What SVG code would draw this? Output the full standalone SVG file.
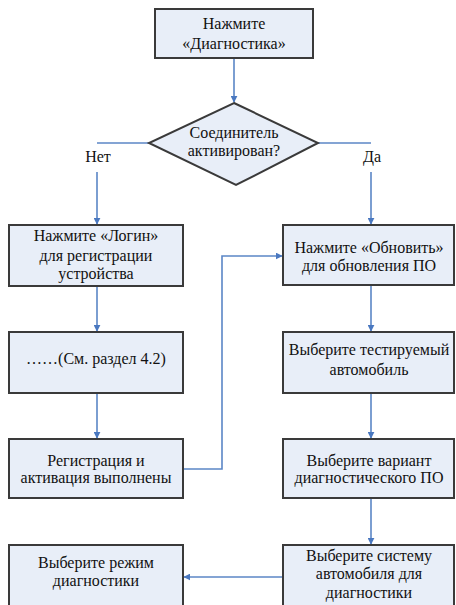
<svg xmlns="http://www.w3.org/2000/svg" width="456" height="605" viewBox="0 0 456 605">
<defs>
<style>
.box{fill:#e8eef8;stroke:#3a3a3a;stroke-width:2}
.c{fill:none;stroke:#5b86c6;stroke-width:1.6}
svg text, g text, text.t{font-family:'Liberation Serif',serif !important;font-size:16px;fill:#111;text-anchor:middle}
</style>
<marker id="ah" viewBox="0 0 10 10" refX="9" refY="5" markerWidth="7" markerHeight="7" orient="auto" markerUnits="userSpaceOnUse">
<path d="M0,0 L10,5 L0,10 z" fill="#4a78c0"/>
</marker>
</defs>
<rect width="456" height="605" fill="#fff"/>
<g id="connectors">
<path class="c" d="M234,58 V102" marker-end="url(#ah)"/>
<path class="c" d="M149,143 H97"/>
<path class="c" d="M97,172 V224" marker-end="url(#ah)"/>
<path class="c" d="M318,143 H371"/>
<path class="c" d="M371,172 V224" marker-end="url(#ah)"/>
<path class="c" d="M97,286 V331" marker-end="url(#ah)"/>
<path class="c" d="M97,393 V438" marker-end="url(#ah)"/>
<path class="c" d="M183,469 H222 V256 H282" marker-end="url(#ah)"/>
<path class="c" d="M371,285 V331" marker-end="url(#ah)"/>
<path class="c" d="M371,393 V438" marker-end="url(#ah)"/>
<path class="c" d="M371,498 V544" marker-end="url(#ah)"/>
<path class="c" d="M283,577 H184" marker-end="url(#ah)"/>
</g>
<g id="n1"><rect class="box" x="155" y="9" width="158" height="49"/>
<text class="t" x="234" y="29" font-family="Liberation Serif" style="font-family:'Liberation Serif',serif !important">Нажмите</text><text class="t" x="234" y="49" font-family="Liberation Serif" style="font-family:'Liberation Serif',serif !important">«Диагностика»</text></g>
<g id="n2"><polygon class="box" points="234,103 318,143 236,185 149,143"/>
<text class="t" x="234" y="138" font-family="Liberation Serif" style="font-family:'Liberation Serif',serif !important">Соединитель</text><text class="t" x="234" y="156" font-family="Liberation Serif" style="font-family:'Liberation Serif',serif !important">активирован?</text></g>
<g id="lblNo"><text class="t" x="98" y="162" font-family="Liberation Serif" style="font-family:'Liberation Serif',serif !important">Нет</text></g>
<g id="lblYes"><text class="t" x="372" y="162" font-family="Liberation Serif" style="font-family:'Liberation Serif',serif !important">Да</text></g>
<g id="n3"><rect class="box" x="9" y="225" width="174" height="61"/>
<text class="t" x="96" y="241" font-family="Liberation Serif" style="font-family:'Liberation Serif',serif !important">Нажмите «Логин»</text><text class="t" x="96" y="261" font-family="Liberation Serif" style="font-family:'Liberation Serif',serif !important">для регистрации</text><text class="t" x="96" y="279" font-family="Liberation Serif" style="font-family:'Liberation Serif',serif !important">устройства</text></g>
<g id="n4"><rect class="box" x="9" y="332" width="174" height="61"/>
<text class="t" x="96" y="364" font-family="Liberation Serif" style="font-family:'Liberation Serif',serif !important">……(См. раздел 4.2)</text></g>
<g id="n5"><rect class="box" x="9" y="439" width="174" height="59"/>
<text class="t" x="96" y="466" font-family="Liberation Serif" style="font-family:'Liberation Serif',serif !important">Регистрация и</text><text class="t" x="96" y="483" font-family="Liberation Serif" style="font-family:'Liberation Serif',serif !important">активация выполнены</text></g>
<g id="n6"><rect class="box" x="283" y="225" width="171" height="60"/>
<text class="t" x="369" y="253" font-family="Liberation Serif" style="font-family:'Liberation Serif',serif !important">Нажмите «Обновить»</text><text class="t" x="369" y="271" font-family="Liberation Serif" style="font-family:'Liberation Serif',serif !important">для обновления ПО</text></g>
<g id="n7"><rect class="box" x="283" y="332" width="171" height="61"/>
<text class="t" x="369" y="355" font-family="Liberation Serif" style="font-family:'Liberation Serif',serif !important">Выберите тестируемый</text><text class="t" x="369" y="375" font-family="Liberation Serif" style="font-family:'Liberation Serif',serif !important">автомобиль</text></g>
<g id="n8"><rect class="box" x="283" y="439" width="171" height="59"/>
<text class="t" x="369" y="466" font-family="Liberation Serif" style="font-family:'Liberation Serif',serif !important">Выберите вариант</text><text class="t" x="369" y="483" font-family="Liberation Serif" style="font-family:'Liberation Serif',serif !important">диагностического ПО</text></g>
<g id="n9"><rect class="box" x="283" y="545" width="171" height="70"/>
<text class="t" x="369" y="561" font-family="Liberation Serif" style="font-family:'Liberation Serif',serif !important">Выберите систему</text><text class="t" x="369" y="579" font-family="Liberation Serif" style="font-family:'Liberation Serif',serif !important">автомобиля для</text><text class="t" x="369" y="598" font-family="Liberation Serif" style="font-family:'Liberation Serif',serif !important">диагностики</text></g>
<g id="n10"><rect class="box" x="9" y="545" width="174" height="70"/>
<text class="t" x="96" y="568" font-family="Liberation Serif" style="font-family:'Liberation Serif',serif !important">Выберите режим</text><text class="t" x="96" y="586" font-family="Liberation Serif" style="font-family:'Liberation Serif',serif !important">диагностики</text></g>
</svg>
